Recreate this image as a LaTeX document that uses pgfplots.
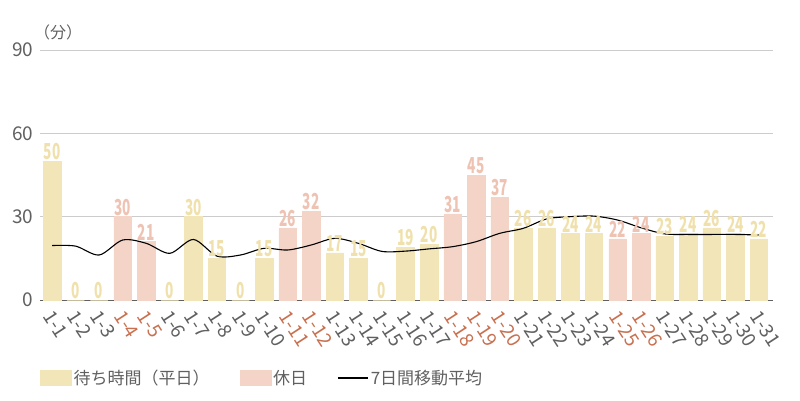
\documentclass[border=0pt]{standalone}
\usepackage{pgfplots}
\pgfplotsset{compat=1.18}
\usepackage{fontspec}
\setmainfont{Noto Sans CJK JP}
\definecolor{wkbar}{HTML}{F2E6B9}
\definecolor{hobar}{HTML}{F5D4C8}
\definecolor{wklab}{HTML}{F0E1AC}
\definecolor{holab}{HTML}{EFC3B3}
\definecolor{hotick}{HTML}{C8704F}
\definecolor{txt}{HTML}{606060}
\definecolor{gridc}{HTML}{CCCCCC}
\newcommand{\ho}[1]{\textcolor{hotick}{#1}}
\begin{document}
\begin{tikzpicture}
\path[use as bounding box] (-40pt,-100pt) rectangle (760pt,300pt);
\begin{axis}[
  scale only axis, width=733pt, height=250pt,
  anchor=south west, at={(0pt,0pt)},
  xmin=0.49, xmax=31.6, ymin=0, ymax=90,
  ytick={0,30,60,90},
  xtick={1,...,31},
  xticklabels={1-1,1-2,1-3,\ho{1-4},\ho{1-5},1-6,1-7,1-8,1-9,1-10,\ho{1-11},\ho{1-12},1-13,1-14,1-15,1-16,1-17,\ho{1-18},\ho{1-19},\ho{1-20},1-21,1-22,1-23,1-24,\ho{1-25},\ho{1-26},1-27,1-28,1-29,1-30,1-31},
  ymajorgrids, grid style={gridc, line width=1pt},
  axis x line*=bottom, axis y line*=left,
  y axis line style={draw=none},
  x axis line style={-, draw=txt, line width=1pt},
  major tick length=0pt,
  /pgf/number format/assume math mode=true,
  yticklabel style={font=\fontsize{19}{19}\selectfont, text=txt, xshift=-3pt},
  xticklabel style={font=\fontsize{19}{19}\selectfont, text=txt, rotate=-57, anchor=west, xshift=5pt, yshift=-10pt},
  legend style={at={(0,-0.312)}, anchor=west, draw=none, fill=none, legend columns=-1,
    font=\fontsize{17}{17}\selectfont, text=txt, inner sep=0pt,
    /tikz/every even column/.append style={column sep=28pt}},
  legend cell align=left,
  clip=false,
]
\addplot[ybar, bar width=17.5pt, bar shift=0pt, fill=wkbar, draw=wkbar, line width=0.5pt,
  nodes near coords={\scalebox{0.62}[1]{\bfseries\pgfmathprintnumber\pgfplotspointmeta}},
  every node near coord/.append style={font=\fontsize{22}{22}\selectfont, text=wklab, inner sep=1pt, anchor=south},
  legend image code/.code={\fill[wkbar] (0pt,-7.5pt) rectangle (31pt,7.5pt);}]
coordinates {(1,50)(2,0)(3,0)(6,0)(7,30)(8,15)(9,0)(10,15)(13,17)(14,15)(15,0)(16,19)(17,20)(21,26)(22,26)(23,24)(24,24)(27,23)(28,24)(29,26)(30,24)(31,22)};
\addlegendentry{待ち時間（平日）}
\addplot[ybar, bar width=17.5pt, bar shift=0pt, fill=hobar, draw=hobar, line width=0.5pt,
  nodes near coords={\scalebox{0.62}[1]{\bfseries\pgfmathprintnumber\pgfplotspointmeta}},
  every node near coord/.append style={font=\fontsize{22}{22}\selectfont, text=holab, inner sep=1pt, anchor=south},
  legend image code/.code={\fill[hobar] (0pt,-7.5pt) rectangle (31pt,7.5pt);}]
coordinates {(4,30)(5,21)(11,26)(12,32)(18,31)(19,45)(20,37)(25,22)(26,24)};
\addlegendentry{休日}
\addplot[black, line width=1.1pt, smooth, no marks,
  legend image code/.code={\draw[black, line width=1.6pt] (0pt,0pt) -- (30pt,0pt);}]
coordinates {(1,19.6)(2,19.4)(3,16.2)(4,21.6)(5,20.4)(6,16.8)(7,21.8)(8,15.8)(9,16.2)(10,18.6)(11,18.0)(12,19.8)(13,22.2)(14,20.4)(15,17.5)(16,17.6)(17,18.4)(18,19.2)(19,21.0)(20,24.0)(21,25.8)(22,29.2)(23,30.0)(24,30.2)(25,28.8)(26,26.0)(27,23.8)(28,23.6)(29,23.6)(30,23.6)(31,23.4)};
\addlegendentry{7日間移動平均}
\node[anchor=south west, text=txt, font=\fontsize{16}{16}\selectfont, inner sep=0pt] at (rel axis cs:0,1) [xshift=-6pt, yshift=10pt] {（分）};
\end{axis}
\end{tikzpicture}
\end{document}
